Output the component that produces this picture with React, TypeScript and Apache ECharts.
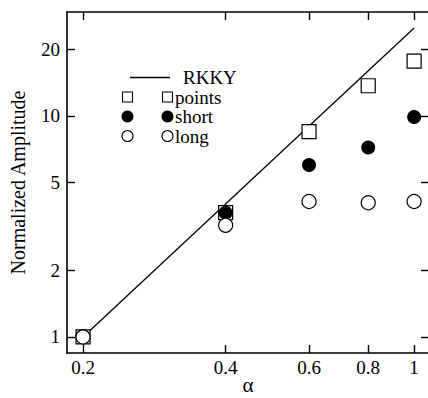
import React, { useEffect, useRef } from 'react';
import * as echarts from 'echarts';

const alphaValues = [0.2, 0.4, 0.6, 0.8, 1];
const pointsAmp = [1, 3.65, 8.5, 13.7, 17.7];
const shortAmp = [1, 3.65, 6.0, 7.2, 9.9];
const longAmp = [1, 3.2, 4.1, 4.05, 4.1];
const rkkyAlpha = [0.2, 1];
const rkkyAmp = [1, 25];
const xTickValues = [0.2, 0.4, 0.6, 0.8, 1];
const xTickLabels = ['0.2', '0.4', '0.6', '0.8', '1'];
const yTickValues = [1, 2, 5, 10, 20];
const yTickLabels = ['1', '2', '5', '10', '20'];
const xRange = [0.185, 1.075];
const yRange = [0.846, 29.55];

const FONT = "'Liberation Serif', 'DejaVu Serif', serif";
const lg = Math.log10;

const pairs = (xs: number[], ys: number[]) => xs.map((x, i) => [lg(x), lg(ys[i])]);

const labelFor = (vals: number[], labels: string[]) => (v: number) => {
  const i = vals.findIndex((t) => Math.abs(lg(t) - v) < 1e-6);
  return i >= 0 ? labels[i] : '';
};

export default function App() {
  const ref = useRef<HTMLDivElement>(null);
  useEffect(() => {
    if (!ref.current) return;
    const chart = echarts.init(ref.current, null, { renderer: 'svg' });
    const xLogTicks = xTickValues.map(lg);
    const yLogTicks = yTickValues.map(lg);
    const axisLine = { onZero: false, lineStyle: { color: '#000', width: 1.6 } };
    const tick = (vals: number[]) => ({ inside: true, length: 8, customValues: vals, lineStyle: { color: '#000', width: 1.4 } });
    const common = { splitLine: { show: false } };
    const openStyle = { color: '#fff', borderColor: '#000', borderWidth: 1.2, opacity: 1 };
    const legendY = [77.5, 97, 116.5, 136];
    const txt = (x: number, y: number, text: string) => ({
      type: 'text', x, y,
      style: { text, fontFamily: FONT, fontSize: 19, fill: '#000', verticalAlign: 'middle' },
    });
    const graphic: any[] = [
      { type: 'line', shape: { x1: 130, y1: legendY[0], x2: 170, y2: legendY[0] }, style: { stroke: '#000', lineWidth: 1.3 } },
      txt(183, legendY[0], 'RKKY'),
      { type: 'rect', shape: { x: 122.5, y: legendY[1] - 5, width: 10, height: 10 }, style: { fill: '#fff', stroke: '#000', lineWidth: 1.1 } },
      { type: 'rect', shape: { x: 162.5, y: legendY[1] - 5, width: 10, height: 10 }, style: { fill: '#fff', stroke: '#000', lineWidth: 1.1 } },
      txt(175, legendY[1], 'points'),
      { type: 'circle', shape: { cx: 127.5, cy: legendY[2], r: 6 }, style: { fill: '#000' } },
      { type: 'circle', shape: { cx: 167.5, cy: legendY[2], r: 6 }, style: { fill: '#000' } },
      txt(175, legendY[2], 'short'),
      { type: 'circle', shape: { cx: 127.5, cy: legendY[3], r: 5.5 }, style: { fill: '#fff', stroke: '#000', lineWidth: 1.1 } },
      { type: 'circle', shape: { cx: 167.5, cy: legendY[3], r: 5.5 }, style: { fill: '#fff', stroke: '#000', lineWidth: 1.1 } },
      txt(175, legendY[3], 'long'),
    ];
    chart.setOption({
      animation: false,
      backgroundColor: '#fff',
      grid: { left: 67, right: -1, top: 12, bottom: 45, outerBoundsMode: 'none', containLabel: false },
      xAxis: [
        {
          type: 'value', min: lg(xRange[0]), max: lg(xRange[1]), position: 'bottom',
          name: 'α', nameLocation: 'middle', nameGap: 21, nameMoveOverlap: false,
          nameTextStyle: { fontFamily: FONT, fontSize: 21, color: '#000' },
          axisLine, axisTick: tick(xLogTicks),
          axisLabel: { customValues: xLogTicks, formatter: labelFor(xTickValues, xTickLabels), fontFamily: FONT, fontSize: 19, color: '#000', margin: 5 },
          ...common,
        },
        {
          type: 'value', min: lg(xRange[0]), max: lg(xRange[1]), position: 'top',
          axisLine, axisTick: tick(xLogTicks), axisLabel: { show: false }, ...common,
        },
      ],
      yAxis: [
        {
          type: 'value', min: lg(yRange[0]), max: lg(yRange[1]), position: 'left',
          name: 'Normalized Amplitude', nameLocation: 'middle', nameGap: 39, nameMoveOverlap: false,
          nameTextStyle: { fontFamily: FONT, fontSize: 20, color: '#000' },
          axisLine, axisTick: tick(yLogTicks),
          axisLabel: { customValues: yLogTicks, formatter: labelFor(yTickValues, yTickLabels), fontFamily: FONT, fontSize: 19, color: '#000', margin: 7 },
          ...common,
        },
        {
          type: 'value', min: lg(yRange[0]), max: lg(yRange[1]), position: 'right',
          axisLine, axisTick: tick(yLogTicks), axisLabel: { show: false }, ...common,
        },
      ],
      series: [
        {
          type: 'line', name: 'RKKY', data: pairs(rkkyAlpha, rkkyAmp), showSymbol: false,
          lineStyle: { color: '#000', width: 1.3 }, z: 2,
        },
        {
          type: 'scatter', name: 'points', data: pairs(alphaValues, pointsAmp), symbol: 'rect', symbolSize: 14,
          itemStyle: openStyle, z: 3,
        },
        {
          type: 'scatter', name: 'short', data: pairs(alphaValues, shortAmp), symbol: 'circle', symbolSize: 14,
          itemStyle: { color: '#000', opacity: 1 }, z: 4,
        },
        {
          type: 'scatter', name: 'long', data: pairs(alphaValues, longAmp), symbol: 'circle', symbolSize: 14,
          itemStyle: openStyle, z: 5,
        },
      ],
      graphic,
    });
    return () => chart.dispose();
  }, []);
  return <div ref={ref} style={{ width: 428, height: 398, position: 'absolute', left: 0, top: 0 }} />;
}
